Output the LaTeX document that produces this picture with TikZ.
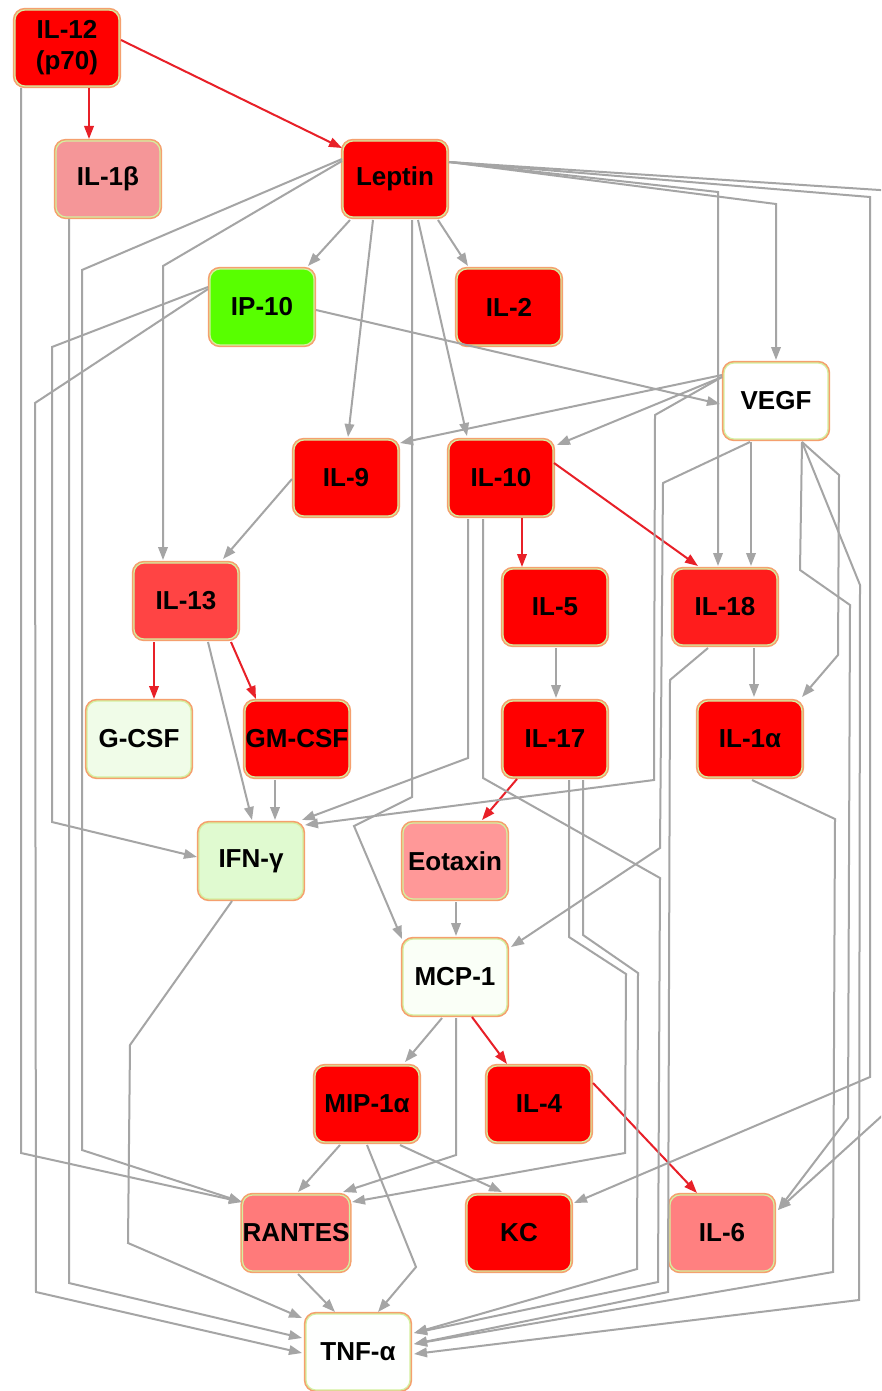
\documentclass[tikz,border=0pt]{standalone}
\usepackage{fontspec}
\setmainfont{Liberation Sans}
\usetikzlibrary{calc,arrows.meta}
\definecolor{edgegray}{RGB}{165,165,165}
\definecolor{edgered}{RGB}{232,32,40}
\definecolor{ringorange}{RGB}{245,160,110}
\definecolor{ringgreen}{RGB}{212,240,160}
\definecolor{nred}{RGB}{255,0,0}
\definecolor{nilb}{RGB}{245,150,152}
\definecolor{nip}{RGB}{88,255,0}
\definecolor{nthirteen}{RGB}{255,68,68}
\definecolor{neighteen}{RGB}{255,28,28}
\definecolor{ngcsf}{RGB}{240,252,232}
\definecolor{nifn}{RGB}{224,250,208}
\definecolor{neot}{RGB}{255,152,152}
\definecolor{nmcp}{RGB}{250,255,247}
\definecolor{nrantes}{RGB}{255,122,122}
\definecolor{nilsix}{RGB}{255,128,128}
\definecolor{ntnf}{RGB}{254,255,254}
\tikzset{
  box/.style={rounded corners=10pt, minimum width=104pt, minimum height=76pt,
    draw=ringgreen, line width=1.2pt, preaction={draw=ringorange, line width=4.4pt},
    font=\fontsize{26}{31}\selectfont\bfseries, text=black, inner sep=0pt, align=center},
  gedge/.style={draw=edgegray, line width=2pt, -{Triangle[length=13pt,width=9.5pt]}},
  redge/.style={draw=edgered, line width=2pt, -{Triangle[length=13pt,width=9.5pt]}}
}
\begin{document}
\begin{tikzpicture}[x=1pt,y=-1pt]
\useasboundingbox (0,0) rectangle (881,1391);
\clip (0,0) rectangle (881,1391);
\fill[white] (0,0) rectangle (881,1391);

% nodes
\node[box, fill=nred] (IL12) at (67,48) {IL-12\\(p70)};
\node[box, fill=nilb] (IL1b) at (108,179) {IL-1β};
\node[box, fill=nred] (Leptin) at (395,179) {Leptin};
\node[box, fill=nip] (IP10) at (262,307) {IP-10};
\node[box, fill=nred] (IL2) at (509,307) {IL-2};
\node[box, fill=white] (VEGF) at (776,401) {VEGF};
\node[box, fill=nred] (IL9) at (346,478) {IL-9};
\node[box, fill=nred] (IL10) at (501,478) {IL-10};
\node[box, fill=nthirteen] (IL13) at (186,601) {IL-13};
\node[box, fill=nred] (IL5) at (555,607) {IL-5};
\node[box, fill=neighteen] (IL18) at (725,607) {IL-18};
\node[box, fill=ngcsf] (GCSF) at (139,739) {G-CSF};
\node[box, fill=nred] (GMCSF) at (297,739) {GM-CSF};
\node[box, fill=nred] (IL17) at (555,739) {IL-17};
\node[box, fill=nred] (IL1a) at (750,739) {IL-1α};
\node[box, fill=nifn] (IFNg) at (251,861) {IFN-γ};
\node[box, fill=neot] (Eotaxin) at (455,861) {Eotaxin};
\node[box, fill=nmcp] (MCP1) at (455,977) {MCP-1};
\node[box, fill=nred] (MIP1a) at (367,1104) {MIP-1α};
\node[box, fill=nred] (IL4) at (539,1104) {IL-4};
\node[box, fill=nrantes] (RANTES) at (296,1233) {RANTES};
\node[box, fill=nred] (KC) at (519,1233) {KC};
\node[box, fill=nilsix] (IL6) at (722,1233) {IL-6};
\node[box, fill=ntnf] (TNF) at (358,1352) {TNF-α};

% red edges
\draw[redge] ($(IL12)+(22,40)$) -- ($(IL1b)+(-19,-40)$);
\draw[redge] ($(IL12)+(54,-8)$) -- ($(Leptin)+(-53,-31)$);
\draw[redge] ($(IL10)+(21,40)$) -- ($(IL5)+(-33,-40)$);
\draw[redge] ($(IL10)+(53,-15)$) -- ($(IL18)+(-27,-41)$);
\draw[redge] ($(IL13)+(-32,41)$) -- ($(GCSF)+(15,-40)$);
\draw[redge] ($(IL13)+(45,41)$) -- ($(GMCSF)+(-41,-40)$);
\draw[redge] ($(IL17)+(-38,40)$) -- ($(Eotaxin)+(27,-41)$);
\draw[redge] ($(MCP1)+(17,40)$) -- ($(IL4)+(-32,-40)$);
\draw[redge] ($(IL4)+(54,-21)$) -- ($(IL6)+(-25,-40)$);

% gray edges from IL-12 / IL-1b
\draw[gedge] ($(IL12)+(-46,40)$) -- (21,1153) -- ($(RANTES)+(-54,-31)$);
\draw[gedge] ($(IL1b)+(-39,40)$) -- (69,1283) -- ($(TNF)+(-56,-14)$);

% Leptin
\draw[gedge] ($(Leptin)+(-53,-20)$) -- (82,270) -- (82,1150) -- ($(RANTES)+(-54,-31)$);
\draw[gedge] ($(Leptin)+(-53,-18)$) -- (163,266) -- ($(IL13)+(-23,-41)$);
\draw[gedge] ($(Leptin)+(-45,41)$) -- ($(IP10)+(46,-41)$);
\draw[gedge] ($(Leptin)+(-22,41)$) -- ($(IL9)+(2,-41)$);
\draw[gedge] ($(Leptin)+(23,41)$) -- ($(IL10)+(-34,-42)$);
\draw[gedge] ($(Leptin)+(17,41)$) -- (412,797) -- (354,826) -- ($(MCP1)+(-53,-38)$);
\draw[gedge] ($(Leptin)+(43,41)$) -- ($(IL2)+(-41,-41)$);
\draw[gedge] ($(Leptin)+(54,-17)$) -- (718,192) -- ($(IL18)+(-7,-41)$);
\draw[gedge] ($(Leptin)+(54,-17)$) -- (776,204) -- ($(VEGF)+(0,-41)$);
\draw[gedge] ($(Leptin)+(54,-17)$) -- (870,197) -- (870,1077) -- ($(KC)+(55,-30)$);
\draw[gedge] ($(Leptin)+(54,-17)$) -- (895,191) -- (895,1104) -- ($(IL6)+(56,-23)$);

% IP-10
\draw[gedge] ($(IP10)+(54,3)$) -- ($(VEGF)+(-56,3)$);
\draw[gedge] ($(IP10)+(-54,-20)$) -- (52,347) -- (52,822) -- ($(IFNg)+(-54,-4)$);
\draw[gedge] ($(IP10)+(-54,-18)$) -- (35,403) -- (36,1292) -- ($(TNF)+(-56,1)$);

% VEGF
\draw[gedge] ($(VEGF)+(-54,-26)$) -- ($(IL9)+(54,-35)$);
\draw[gedge] ($(VEGF)+(-54,-24)$) -- ($(IL10)+(56,-33)$);
\draw[gedge] ($(VEGF)+(-54,-24)$) -- (655,415) -- (654,780) -- ($(IFNg)+(54,-36)$);
\draw[gedge] ($(VEGF)+(-26,41)$) -- (663,483) -- (660,848) -- ($(MCP1)+(56,-30)$);
\draw[gedge] ($(VEGF)+(-25,41)$) -- ($(IL18)+(26,-41)$);
\draw[gedge] ($(VEGF)+(26,41)$) -- (839,475) -- (838,655) -- ($(IL1a)+(52,-42)$);
\draw[gedge] ($(VEGF)+(26,41)$) -- (800,570) -- (850,605) -- (848,1118) -- ($(IL6)+(56,-23)$);
\draw[gedge] ($(VEGF)+(26,41)$) -- (860,585) -- (859,1300) -- ($(TNF)+(56,2)$);

% IL-10
\draw[gedge] ($(IL10)+(-33,41)$) -- (468,758) -- ($(IFNg)+(51,-41)$);
\draw[gedge] ($(IL10)+(-18,41)$) -- (483,778) -- (660,878) -- (658,1282) -- ($(TNF)+(56,-19)$);

% middle
\draw[gedge] ($(IL13)+(22,41)$) -- ($(IFNg)+(1,-41)$);
\draw[gedge] ($(GMCSF)+(-22,41)$) -- ($(IFNg)+(24,-41)$);
\draw[gedge] ($(IL9)+(-54,1)$) -- ($(IL13)+(37,-42)$);
\draw[gedge] ($(IL5)+(1,41)$) -- ($(IL17)+(1,-41)$);
\draw[gedge] ($(IL18)+(29,41)$) -- ($(IL1a)+(4,-42)$);
\draw[gedge] ($(IL18)+(-17,41)$) -- (670,680) -- (668,1292) -- ($(TNF)+(56,-8)$);
\draw[gedge] ($(IL1a)+(2,41)$) -- (835,819) -- (833,1272) -- ($(TNF)+(56,-8)$);
\draw[gedge] ($(IL17)+(14,41)$) -- (569,937) -- (626,974) -- (625,1153) -- ($(RANTES)+(56,-31)$);
\draw[gedge] ($(IL17)+(28,41)$) -- (583,935) -- (638,973) -- (637,1269) -- ($(TNF)+(56,-19)$);
\draw[gedge] ($(Eotaxin)+(1,41)$) -- ($(MCP1)+(1,-41)$);
\draw[gedge] ($(MCP1)+(-13,41)$) -- ($(MIP1a)+(38,-42)$);
\draw[gedge] ($(MCP1)+(1,41)$) -- (456,1155) -- ($(RANTES)+(47,-41)$);
\draw[gedge] ($(MIP1a)+(-27,41)$) -- ($(RANTES)+(2,-41)$);
\draw[gedge] ($(MIP1a)+(0,41)$) -- (416,1267) -- ($(TNF)+(20,-40)$);
\draw[gedge] ($(MIP1a)+(33,41)$) -- ($(KC)+(-17,-41)$);
\draw[gedge] ($(RANTES)+(2,41)$) -- ($(TNF)+(-23,-40)$);
\draw[gedge] ($(IFNg)+(-19,40)$) -- (130,1045) -- (128,1243) -- ($(TNF)+(-56,-34)$);
\end{tikzpicture}
\end{document}
